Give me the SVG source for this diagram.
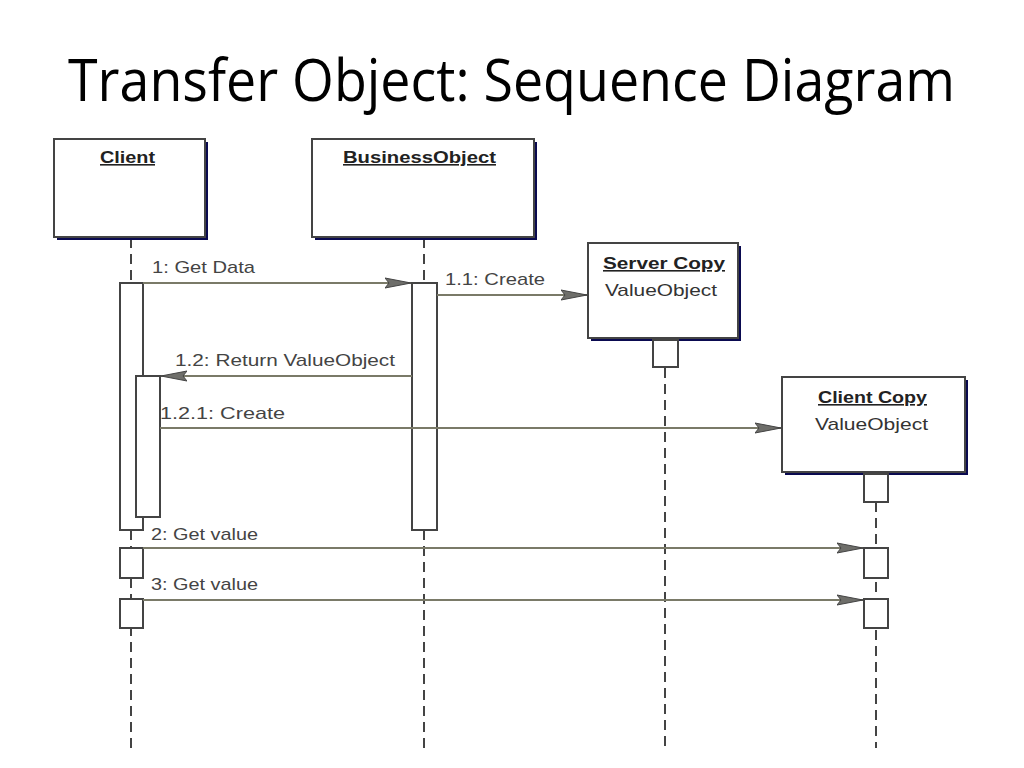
<svg xmlns="http://www.w3.org/2000/svg" width="1024" height="768" viewBox="0 0 1024 768">
<defs>
<marker id="ah" viewBox="0 0 26 12" refX="26" refY="6" markerWidth="26" markerHeight="12" markerUnits="userSpaceOnUse" orient="auto">
<path d="M0,1 L26,6 L0,11 L4,6 Z" fill="#6e6e6a" stroke="#444" stroke-width="1"/>
</marker>
</defs>
<style>
.title{font-family:"Open Sans","Liberation Sans",Arial,sans-serif;font-size:50px;fill:#000}
.obj{fill:#fff;stroke:#444;stroke-width:2}
.shadow{fill:#0a0a50}
.name{font-family:"Liberation Sans",Arial,sans-serif;font-size:16px;font-weight:bold;fill:#222;text-decoration:underline}
.cls{font-family:"Liberation Sans",Arial,sans-serif;font-size:17px;fill:#333}
.act{fill:#fff;stroke:#444;stroke-width:2}
.life{stroke:#444;stroke-width:2;stroke-dasharray:10,6;fill:none}
.msg{stroke:#7a7a68;stroke-width:2;fill:none;marker-end:url(#ah)}
.lbl{font-family:"Liberation Sans",Arial,sans-serif;font-size:17px;fill:#444}
</style>
<rect width="1024" height="768" fill="#fff"/>
<text class="title" transform="translate(68,101) scale(1,1.18)" x="0" y="0" textLength="887" lengthAdjust="spacingAndGlyphs">Transfer Object: Sequence Diagram</text>

<g id="lifelines">
<line class="life" x1="131" y1="238" x2="131" y2="283"/>
<line class="life" x1="131" y1="530" x2="131" y2="748"/>
<line class="life" x1="424" y1="238" x2="424" y2="283"/>
<line class="life" x1="424" y1="530" x2="424" y2="748"/>
<line class="life" x1="665" y1="368" x2="665" y2="748"/>
<line class="life" x1="876" y1="502" x2="876" y2="748"/>
</g>

<g id="client">
<rect class="shadow" x="57" y="142" width="151" height="98"/>
<rect class="obj" x="54" y="139" width="151" height="98"/>
<text class="name" x="100" y="163" textLength="55" lengthAdjust="spacingAndGlyphs">Client</text>
</g>

<g id="businessobject">
<rect class="shadow" x="315" y="142" width="222" height="98"/>
<rect class="obj" x="312" y="139" width="222" height="98"/>
<text class="name" x="343" y="163" textLength="153" lengthAdjust="spacingAndGlyphs">BusinessObject</text>
</g>

<g id="servercopy">
<rect class="shadow" x="591" y="246" width="150" height="95"/>
<rect class="obj" x="588" y="243" width="150" height="95"/>
<text class="name" x="603" y="269" textLength="122" lengthAdjust="spacingAndGlyphs">Server Copy</text>
<text class="cls" x="605" y="296" textLength="112" lengthAdjust="spacingAndGlyphs">ValueObject</text>
<rect class="act" x="653" y="340" width="25" height="27"/>
</g>

<g id="clientcopy">
<rect class="shadow" x="785" y="380" width="183" height="95"/>
<rect class="obj" x="782" y="377" width="183" height="95"/>
<text class="name" x="818" y="403" textLength="109" lengthAdjust="spacingAndGlyphs">Client Copy</text>
<text class="cls" x="815" y="430" textLength="113" lengthAdjust="spacingAndGlyphs">ValueObject</text>
<rect class="act" x="864" y="474" width="24" height="28"/>
<rect class="act" x="864" y="548" width="24" height="30"/>
<rect class="act" x="864" y="599" width="24" height="29"/>
</g>

<g id="activations">
<rect class="act" x="120" y="283" width="23" height="247"/>
<rect class="act" x="136" y="376" width="24" height="141"/>
<rect class="act" x="412" y="283" width="25" height="247"/>
<rect class="act" x="120" y="548" width="23" height="30"/>
<rect class="act" x="120" y="599" width="23" height="29"/>
</g>

<g id="connectors">
<line class="msg" x1="143" y1="283" x2="411" y2="283"/>
<line class="msg" x1="437" y1="295" x2="587" y2="295"/>
<line class="msg" x1="412" y1="376" x2="161" y2="376"/>
<line class="msg" x1="160" y1="428" x2="781" y2="428"/>
<line class="msg" x1="143" y1="548" x2="863" y2="548"/>
<line class="msg" x1="143" y1="600" x2="863" y2="600"/>
</g>

<g id="labels">
<text class="lbl" x="152" y="273" textLength="103" lengthAdjust="spacingAndGlyphs">1: Get Data</text>
<text class="lbl" x="445" y="285" textLength="100" lengthAdjust="spacingAndGlyphs">1.1: Create</text>
<text class="lbl" x="175" y="366" textLength="220" lengthAdjust="spacingAndGlyphs">1.2: Return ValueObject</text>
<text class="lbl" x="160" y="419" textLength="125" lengthAdjust="spacingAndGlyphs">1.2.1: Create</text>
<text class="lbl" x="151" y="540" textLength="107" lengthAdjust="spacingAndGlyphs">2: Get value</text>
<text class="lbl" x="151" y="590" textLength="107" lengthAdjust="spacingAndGlyphs">3: Get value</text>
</g>
</svg>
